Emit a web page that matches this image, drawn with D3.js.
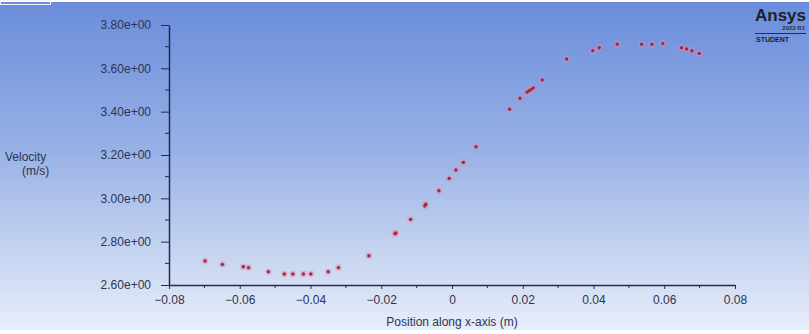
<!DOCTYPE html>
<html><head><meta charset="utf-8">
<script src="https://cdn.jsdelivr.net/npm/d3@7"></script>
<style>body{margin:0;background:#fff}svg{display:block}</style>
</head><body>
<svg id="c" width="809" height="334"></svg>
<script>
const positions = [-0.0698,-0.0649,-0.0590,-0.0575,-0.0519,-0.0474,-0.0450,-0.0420,-0.0399,-0.0350,-0.0321,-0.0235,-0.0161,-0.0159,-0.0117,-0.0077,-0.0074,-0.0037,-0.0008,0.0011,0.0032,0.0068,0.0163,0.0192,0.0212,0.0218,0.0224,0.0230,0.0255,0.0324,0.0398,0.0416,0.0467,0.0536,0.0565,0.0596,0.0649,0.0663,0.0678,0.0699];
const velocities = [2.711,2.695,2.684,2.680,2.661,2.651,2.651,2.651,2.651,2.661,2.680,2.735,2.837,2.840,2.903,2.965,2.973,3.035,3.092,3.131,3.166,3.238,3.411,3.462,3.490,3.497,3.503,3.510,3.546,3.643,3.681,3.695,3.711,3.711,3.711,3.715,3.695,3.689,3.681,3.669];
const xTicks = [-0.08,-0.06,-0.04,-0.02,0,0.02,0.04,0.06,0.08];
const yTicks = [2.6,2.8,3.0,3.2,3.4,3.6,3.8];
const xLabel = "Position along x-axis (m)";
const yLabel = ["Velocity","(m/s)"];

const svg = d3.select("#c");
const defs = svg.append("defs");
const g = defs.append("linearGradient").attr("id","bg").attr("x1",0).attr("y1",0).attr("x2",0).attr("y2",1);
g.append("stop").attr("offset","0%").attr("stop-color","#6a8cdb");
g.append("stop").attr("offset","45%").attr("stop-color","#98b1e6");
g.append("stop").attr("offset","100%").attr("stop-color","#e8eef9");
svg.append("rect").attr("x",0).attr("y",2).attr("width",809).attr("height",328).attr("fill","url(#bg)");
svg.append("rect").attr("x",0.5).attr("y",0.5).attr("width",50).attr("height",4).attr("fill","none").attr("stroke","#f4f6fb").attr("stroke-width",1);

const x = d3.scaleLinear().domain([-0.08,0.08]).range([169,735]);
const y = d3.scaleLinear().domain([2.6,3.8]).range([285,25]);
const ink = "#1f2d4d";
const font = "'Liberation Sans', Arial, sans-serif";

// minor ticks
const xMinor = d3.range(-0.07,0.08,0.02);
const yMinor = d3.range(2.7,3.8,0.2);
svg.append("g").selectAll("line").data(xMinor).join("line")
  .attr("x1",d=>x(d)).attr("x2",d=>x(d)).attr("y1",285).attr("y2",288).attr("stroke",ink).attr("stroke-width",1);
svg.append("g").selectAll("line").data(yMinor).join("line")
  .attr("x1",165).attr("x2",169).attr("y1",d=>y(d)).attr("y2",d=>y(d)).attr("stroke",ink).attr("stroke-width",1);

const xAxis = svg.append("g").attr("transform","translate(0,285)")
  .call(d3.axisBottom(x).tickValues(xTicks).tickSize(4).tickPadding(6).tickSizeOuter(0).tickFormat(d=>d===0?"0":d3.format(".2f")(d)));
const yAxis = svg.append("g").attr("transform","translate(169,0)")
  .call(d3.axisLeft(y).tickValues(yTicks).tickSize(8).tickPadding(10).tickSizeOuter(0).tickFormat(d=>d.toFixed(2)+"e+00"));
[xAxis,yAxis].forEach(a=>{
  a.select(".domain").attr("stroke",ink).attr("stroke-width",1.5);
  a.selectAll(".tick line").attr("stroke",ink);
  a.selectAll("text").attr("fill","#2a3553").attr("font-family",font).attr("font-size",12);
});

svg.append("text").attr("x",452).attr("y",326).attr("text-anchor","middle")
  .attr("font-family",font).attr("font-size",12).attr("fill","#2a3553").text(xLabel);
svg.append("text").attr("x",5).attr("y",161).attr("font-family",font).attr("font-size",12).attr("fill","#2a3553").text(yLabel[0]);
svg.append("text").attr("x",22).attr("y",175).attr("font-family",font).attr("font-size",12).attr("fill","#2a3553").text(yLabel[1]);

const data = positions.map((p,i)=>({p,v:velocities[i]}));
svg.append("g").selectAll("circle").data(data).join("circle")
  .attr("cx",d=>x(d.p)).attr("cy",d=>y(d.v)).attr("r",3.4).attr("fill","#e58aa6").attr("opacity",0.45);
svg.append("g").selectAll("circle").data(data).join("circle")
  .attr("cx",d=>x(d.p)).attr("cy",d=>y(d.v)).attr("r",1.7).attr("fill","#9a2a4c");

// Ansys logo
const lg = svg.append("g");
lg.append("text").attr("x",806).attr("y",21).attr("text-anchor","end").attr("font-family",font)
  .attr("font-weight","bold").attr("font-size",17).attr("fill","#1b1f2a").text("Ansys");
lg.append("text").attr("x",805).attr("y",30).attr("text-anchor","end").attr("font-family",font)
  .attr("font-weight","bold").attr("font-size",6).attr("fill","#2a2f3a").text("2023 R1");
lg.append("line").attr("x1",755).attr("x2",806).attr("y1",33.5).attr("y2",33.5).attr("stroke","#2a2f3a").attr("stroke-width",1);
lg.append("text").attr("x",756).attr("y",42).attr("font-family",font)
  .attr("font-weight","bold").attr("font-size",7).attr("fill","#1b1f2a").text("STUDENT");
</script>
</body></html>
